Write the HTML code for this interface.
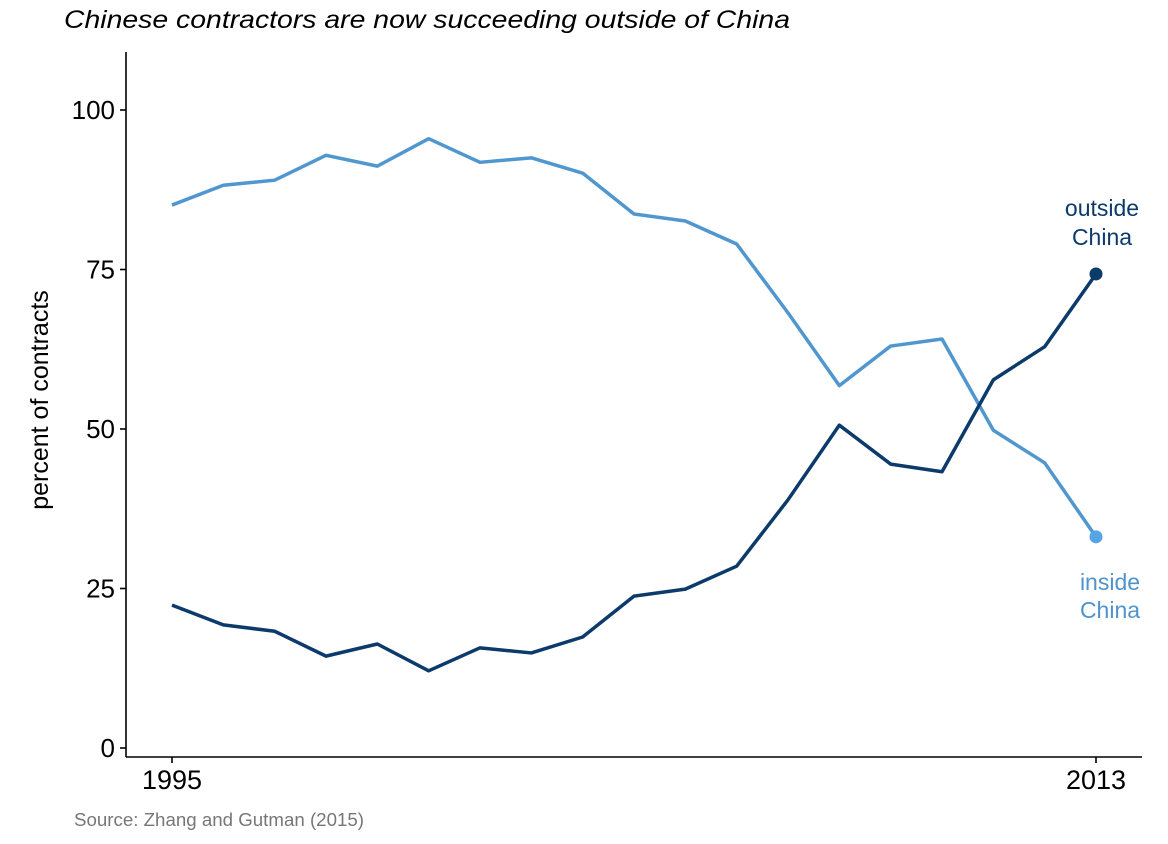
<!DOCTYPE html>
<html><head><meta charset="utf-8"><style>
body{margin:0;background:#fff;}
svg text{font-family:"Liberation Sans",Arial,sans-serif;}
</style></head><body>
<svg width="1168" height="839" viewBox="0 0 1168 839" id="chart">
<text x="64" y="28" font-size="25" font-style="italic" fill="#000" textLength="726" lengthAdjust="spacingAndGlyphs">Chinese contractors are now succeeding outside of China</text>
<text x="74" y="826" font-size="18" fill="#777" textLength="290" lengthAdjust="spacingAndGlyphs">Source: Zhang and Gutman (2015)</text>
<text transform="translate(48,400) rotate(-90)" text-anchor="middle" font-size="25" fill="#000">percent of contracts</text>
<line x1="126" y1="52" x2="126" y2="757" stroke="#000" stroke-width="1.6"/>
<line x1="126" y1="757" x2="1142" y2="757" stroke="#000" stroke-width="1.6"/>
<g id="ticks"></g>
<g id="lines"></g>
<text x="1102" y="216" text-anchor="middle" font-size="23" fill="#0b3a6b"><tspan x="1102">outside</tspan><tspan x="1102" dy="29">China</tspan></text>
<text x="1110" y="590" text-anchor="middle" font-size="23" fill="#4f93cc"><tspan x="1110">inside</tspan><tspan x="1110" dy="28">China</tspan></text>
</svg>
<script>
const years=[1995,1996,1997,1998,1999,2000,2001,2002,2003,2004,2005,2006,2007,2008,2009,2010,2011,2012,2013];
const insideChina=[85.1,88.2,89.0,92.9,91.2,95.5,91.8,92.5,90.1,83.7,82.6,79.0,68.2,56.8,63.0,64.1,49.8,44.7,33.1];
const outsideChina=[22.4,19.3,18.3,14.4,16.3,12.1,15.7,14.9,17.4,23.8,24.9,28.5,38.9,50.6,44.5,43.3,57.7,62.9,74.3];
const yTicks=[0,25,50,75,100];
const xTicks=[1995,2013];
const NS="http://www.w3.org/2000/svg";
const xs=y=>172+(y-1995)*(1096-172)/18;
const ys=v=>748-v*(748-110)/100;
const tg=document.getElementById('ticks'),lg=document.getElementById('lines');
function mk(tag,attrs,parent){const e=document.createElementNS(NS,tag);for(const k in attrs)e.setAttribute(k,attrs[k]);parent.appendChild(e);return e;}
yTicks.forEach(v=>{
 const l=mk('line',{x1:120,x2:126,y1:ys(v),y2:ys(v),stroke:'#000','stroke-width':1.6},tg);
 
 
 const t=mk('text',{x:115,y:ys(v)+9,'text-anchor':'end','font-size':26,fill:'#000'},tg);t.textContent=v;
 
 
});
xTicks.forEach(v=>{
 const l=mk('line',{x1:xs(v),x2:xs(v),y1:757,y2:763,stroke:'#000','stroke-width':1.6},tg);
 
 
 const t=mk('text',{x:xs(v),y:789,'text-anchor':'middle','font-size':27,fill:'#000'},tg);t.textContent=v;
 
 
});
function series(vals,color,dot,name){
 const p=mk('polyline',{points:vals.map((v,i)=>xs(years[i])+','+ys(v)).join(' '),fill:'none',stroke:color,'stroke-width':3.5,'stroke-linejoin':'round'},lg);
 
 
 const n=vals.length-1;
 const c=mk('circle',{cx:xs(years[n]),cy:ys(vals[n]),r:6.5,fill:dot},lg);
 
 
}
series(insideChina,'#5097cf','#56a3e6','inside-china');
series(outsideChina,'#0b3a6b','#0b3a6b','outside-china');
</script>
</body></html>
